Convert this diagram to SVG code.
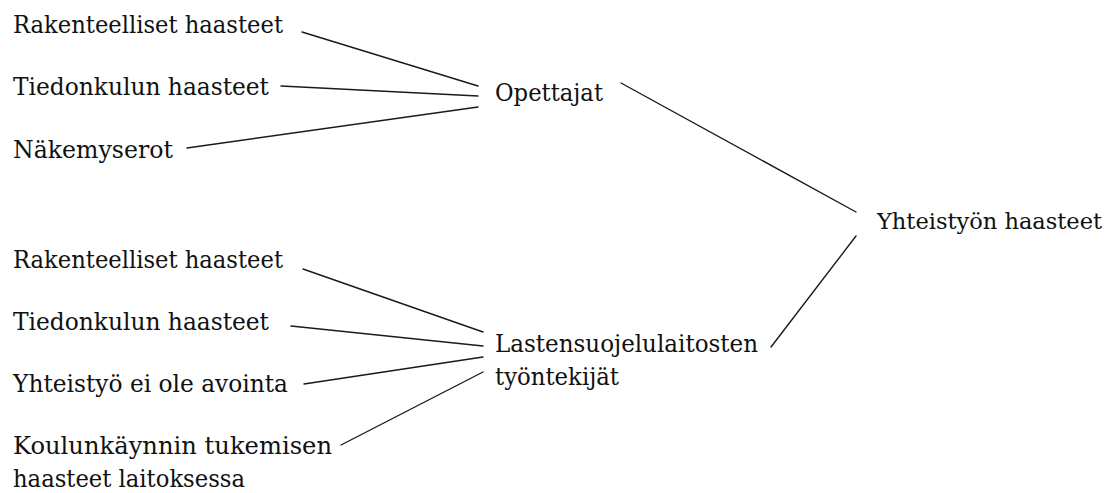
<svg xmlns="http://www.w3.org/2000/svg" width="1112" height="493" viewBox="0 0 1112 493">
  <style>
    text { font-family: 'DejaVu Serif', serif; font-size: 24px; fill: #111111; }
    text.root { font-size: 23px; }
    .edge { stroke: #1a1a1a; stroke-width: 1.4; fill: none; stroke-linecap: round; }
  </style>
  <rect width="1112" height="493" fill="#ffffff"/>

  <!-- connectors -->
  <g id="connectors">
    <line class="edge" x1="302" y1="32" x2="478" y2="86"/>
    <line class="edge" x1="281" y1="86" x2="478" y2="96"/>
    <line class="edge" x1="187" y1="148" x2="478" y2="107"/>
    <line class="edge" x1="621" y1="83" x2="856" y2="212"/>
    <line class="edge" x1="856" y1="236" x2="771" y2="347"/>
    <line class="edge" x1="303" y1="269" x2="483" y2="332"/>
    <line class="edge" x1="291" y1="326" x2="483" y2="346"/>
    <line class="edge" x1="304" y1="384" x2="483" y2="357"/>
    <line class="edge" x1="341" y1="445" x2="483" y2="372"/>
  </g>

  <!-- teacher branch -->
  <g id="n-rakenteelliset-1">
    <text x="13" y="33" textLength="270" lengthAdjust="spacingAndGlyphs">Rakenteelliset haasteet</text>
  </g>
  <g id="n-tiedonkulku-1">
    <text x="13" y="95" textLength="256" lengthAdjust="spacingAndGlyphs">Tiedonkulun haasteet</text>
  </g>
  <g id="n-nakemyserot">
    <text x="13" y="158" textLength="160" lengthAdjust="spacingAndGlyphs">Näkemyserot</text>
  </g>
  <g id="n-opettajat">
    <text x="495" y="101" textLength="108" lengthAdjust="spacingAndGlyphs">Opettajat</text>
  </g>

  <!-- root -->
  <g id="n-yhteistyon-haasteet">
    <text class="root" x="877" y="229" textLength="225" lengthAdjust="spacingAndGlyphs">Yhteistyön haasteet</text>
  </g>

  <!-- child welfare branch -->
  <g id="n-rakenteelliset-2">
    <text x="13" y="268" textLength="270" lengthAdjust="spacingAndGlyphs">Rakenteelliset haasteet</text>
  </g>
  <g id="n-tiedonkulku-2">
    <text x="13" y="330" textLength="256" lengthAdjust="spacingAndGlyphs">Tiedonkulun haasteet</text>
  </g>
  <g id="n-ei-avointa">
    <text x="13" y="392" textLength="275" lengthAdjust="spacingAndGlyphs">Yhteistyö ei ole avointa</text>
  </g>
  <g id="n-koulunkaynti">
    <text x="13" y="454" textLength="319" lengthAdjust="spacingAndGlyphs">Koulunkäynnin tukemisen</text>
    <text x="13" y="487" textLength="232" lengthAdjust="spacingAndGlyphs">haasteet laitoksessa</text>
  </g>
  <g id="n-lastensuojelu">
    <text x="495" y="352" textLength="263" lengthAdjust="spacingAndGlyphs">Lastensuojelulaitosten</text>
    <text x="495" y="385" textLength="124" lengthAdjust="spacingAndGlyphs">työntekijät</text>
  </g>
</svg>
